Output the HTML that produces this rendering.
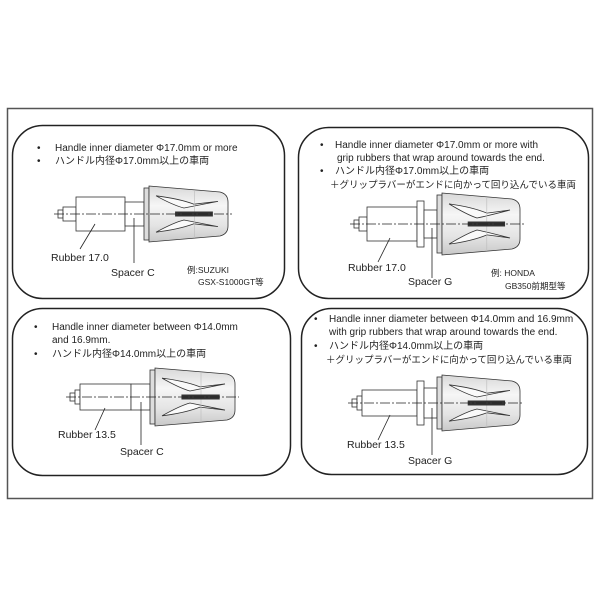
<!DOCTYPE html>
<html><head><meta charset="utf-8"><style>
html,body{margin:0;padding:0;background:#fff;}
svg{display:block;}
text{font-family:"Liberation Sans","Noto Sans CJK JP",sans-serif;fill:#222;}
</style></head><body>
<svg id="s" width="600" height="600" viewBox="0 0 600 600" xmlns="http://www.w3.org/2000/svg">
<defs>
<linearGradient id="cg" x1="0" y1="0" x2="0" y2="1">
<stop offset="0" stop-color="#d8d8d8"/><stop offset="0.35" stop-color="#f6f6f6"/><stop offset="0.7" stop-color="#e4e4e4"/><stop offset="1" stop-color="#c8c8c8"/></linearGradient>
</defs>
<rect x="7.5" y="108.5" width="585" height="390" fill="none" stroke="#555" stroke-width="1.5"/>
<rect x="12.5" y="125.5" width="272" height="173" rx="30" fill="#fff" stroke="#222" stroke-width="1.5"/>
<rect x="298.5" y="127.5" width="290" height="171" rx="30" fill="#fff" stroke="#222" stroke-width="1.5"/>
<rect x="12.5" y="308.5" width="278" height="167" rx="30" fill="#fff" stroke="#222" stroke-width="1.5"/>
<rect x="301.5" y="308.5" width="286" height="166" rx="30" fill="#fff" stroke="#222" stroke-width="1.5"/>
<g font-size="10">
<text x="37" y="151">•</text><text x="55" y="151">Handle inner diameter Φ17.0mm or more</text>
<text x="37" y="164">•</text><text x="55" y="164">ハンドル内径Φ17.0mm以上の車両</text>
<text x="51" y="261" font-size="10.5">Rubber 17.0</text>
<text x="111" y="276" font-size="10.5">Spacer C</text>
<text x="187" y="273" font-size="8.5">例:SUZUKI</text>
<text x="198" y="285" font-size="8.5">GSX-S1000GT等</text>

<text x="320" y="148">•</text><text x="335" y="148">Handle inner diameter Φ17.0mm or more with</text>
<text x="337" y="161">grip rubbers that wrap around towards the end.</text>
<text x="320" y="174">•</text><text x="335" y="174">ハンドル内径Φ17.0mm以上の車両</text>
<text x="330" y="188" font-size="9.5">＋グリップラバーがエンドに向かって回り込んでいる車両</text>
<text x="348" y="271" font-size="10.5">Rubber 17.0</text>
<text x="408" y="285" font-size="10.5">Spacer G</text>
<text x="491" y="276" font-size="8.5">例: HONDA</text>
<text x="505" y="289" font-size="8.5">GB350前期型等</text>

<text x="34" y="330">•</text><text x="52" y="330">Handle inner diameter between Φ14.0mm</text>
<text x="52" y="343">and 16.9mm.</text>
<text x="34" y="357">•</text><text x="52" y="357">ハンドル内径Φ14.0mm以上の車両</text>
<text x="58" y="438" font-size="10.5">Rubber 13.5</text>
<text x="120" y="455" font-size="10.5">Spacer C</text>

<text x="314" y="322">•</text><text x="329" y="322">Handle inner diameter between Φ14.0mm and 16.9mm</text>
<text x="329" y="335">with grip rubbers that wrap around towards the end.</text>
<text x="314" y="349">•</text><text x="329" y="349">ハンドル内径Φ14.0mm以上の車両</text>
<text x="326" y="363" font-size="9.5">＋グリップラバーがエンドに向かって回り込んでいる車両</text>
<text x="347" y="448" font-size="10.5">Rubber 13.5</text>
<text x="408" y="464" font-size="10.5">Spacer G</text>
</g>
<g id="dev"></g>
</svg>
<script>
function dev(o){
 var s='',cy=o.cy,st='stroke="#333" stroke-width="0.8"';
 s+='<rect x="'+o.n+'" y="'+(cy-4)+'" width="5" height="8" fill="#fff" '+st+'/>';
 s+='<rect x="'+(o.n+5)+'" y="'+(cy-7)+'" width="'+(o.r0-o.n-5)+'" height="14" fill="#fff" '+st+'/>';
 s+='<rect x="'+o.r0+'" y="'+(cy-o.rh)+'" width="'+(o.r1-o.r0)+'" height="'+(2*o.rh)+'" fill="#fff" '+st+'/>';
 var x=o.r1;
 if(o.f){s+='<rect x="'+x+'" y="'+(cy-o.fh)+'" width="7" height="'+(2*o.fh)+'" fill="#fff" '+st+'/>';x+=7;}
 s+='<rect x="'+x+'" y="'+(cy-o.sh)+'" width="'+(o.c-x)+'" height="'+(2*o.sh)+'" fill="#fff" '+st+'/>';
 var c=o.c,h=o.ch,L=o.cl;
 s+='<rect x="'+c+'" y="'+(cy-h+2)+'" width="5" height="'+(2*h-4)+'" fill="#ddd" '+st+'/>';
 s+='<path d="M'+(c+5)+' '+(cy-h)+' L'+(c+L-8)+' '+(cy-h+6)+' Q'+(c+L)+' '+(cy-h+8)+' '+(c+L)+' '+(cy-h+16)+' L'+(c+L)+' '+(cy+h-16)+' Q'+(c+L)+' '+(cy+h-8)+' '+(c+L-8)+' '+(cy+h-6)+' L'+(c+5)+' '+(cy+h)+' Z" fill="url(#cg)" '+st+'/>';
 for(var k=-1;k<=1;k+=2){
  var y1=cy+k*h*0.65,y2=cy+k*6;
  s+='<path d="M'+(c+12)+' '+y1+' Q'+(c+35)+' '+(cy+k*h*0.55)+' '+(c+50)+' '+(cy+k*h*0.35)+' L'+(c+L-10)+' '+(cy+k*h*0.45)+' Q'+(c+50)+' '+(cy+k*8)+' '+(c+40)+' '+y2+' Q'+(c+30)+' '+(cy+k*h*0.3)+' '+(c+12)+' '+y1+'" fill="#fafafa" '+st+'/>';
 }
 s+='<line x1="'+(c+L*0.6)+'" y1="'+(cy-h+4)+'" x2="'+(c+L*0.6)+'" y2="'+(cy+h-4)+'" stroke="#bbb" stroke-width="0.6"/>';
 s+='<rect x="'+(c+L*0.37)+'" y="'+(cy-2.5)+'" width="'+(L*0.45)+'" height="5" fill="#333"/>';
 s+='<line x1="'+(o.n-4)+'" y1="'+cy+'" x2="'+(c+L+4)+'" y2="'+cy+'" stroke="#222" stroke-width="0.8" stroke-dasharray="10,2,2,2"/>';
 s+='<line x1="'+o.l1[0]+'" y1="'+o.l1[1]+'" x2="'+o.l1[2]+'" y2="'+o.l1[3]+'" stroke="#222" stroke-width="0.8"/>';
 s+='<line x1="'+o.l2[0]+'" y1="'+o.l2[1]+'" x2="'+o.l2[0]+'" y2="'+o.l2[2]+'" stroke="#222" stroke-width="0.8"/>';
 return s;
}
var g='';
g+=dev({cy:214,n:58,r0:76,r1:125,rh:17,f:false,sh:12,c:144,ch:28,cl:84,l1:[80,249,95,224],l2:[134,218,263]});
g+=dev({cy:224,n:354,r0:367,r1:417,rh:17,f:true,fh:23,sh:14,c:437,ch:31,cl:83,l1:[378,262,390,238],l2:[432,228,278]});
g+=dev({cy:397,n:70,r0:80,r1:131,rh:13,f:false,sh:13,c:150,ch:29,cl:85,l1:[95,430,105,408],l2:[141,402,445]});
g+=dev({cy:403,n:352,r0:362,r1:417,rh:13,f:true,fh:22,sh:15,c:437,ch:28,cl:83,l1:[378,440,390,415],l2:[432,408,455]});
document.getElementById('dev').innerHTML=g;
</script>
</body></html>
